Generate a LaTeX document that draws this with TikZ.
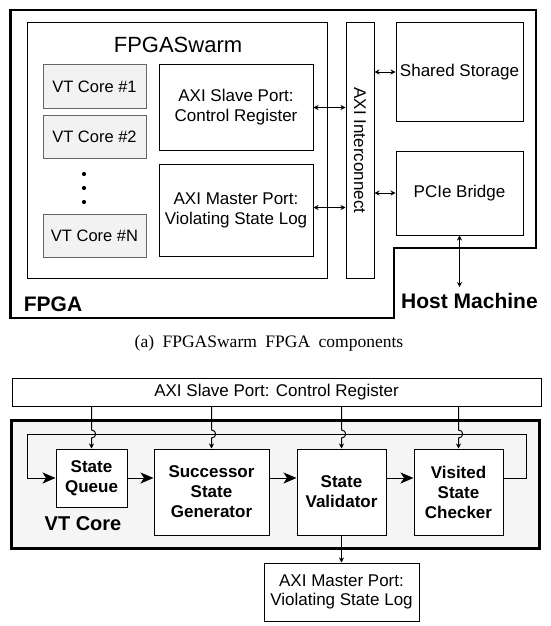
\documentclass[tikz,border=0pt]{standalone}
\usepackage{fontspec}
\setmainfont{Liberation Sans}
\newfontfamily\capfont{Liberation Serif}
\usetikzlibrary{arrows.meta}
\definecolor{vtfill}{HTML}{F2F2F2}
\definecolor{vtdraw}{HTML}{666666}
\definecolor{corefill}{HTML}{F5F5F5}
\begin{document}
\begin{tikzpicture}[x=1pt,y=-1pt,
  box/.style={draw, line width=1pt, inner sep=0pt, align=center, font=\fontsize{17}{20}\selectfont},
  vtbox/.style={box, draw=vtdraw, fill=vtfill, font=\fontsize{16.5}{19}\selectfont, minimum width=103, minimum height=43},
  blk/.style={box, fill=white, font=\bfseries\fontsize{17}{20}\selectfont},
  biarrow/.style={line width=1pt, {Stealth[length=5pt,width=5pt]}-{Stealth[length=5pt,width=5pt]}},
  drop/.style={line width=1pt, -{Stealth[length=5pt,width=5pt]}},
  flow/.style={line width=1pt, -{Stealth[length=13pt,width=11pt,inset=3.5pt]}},
  biglbl/.style={font=\bfseries\fontsize{21}{24}\selectfont, inner sep=0pt}]
\useasboundingbox (0,0) rectangle (550,626);

% ---------- (a) FPGA components ----------
\draw[line width=2.5pt] (10.5,10) -- (536,10) -- (536,248) -- (394,248) -- (394,318) -- (10.5,318) -- cycle;
\node[box, minimum width=300, minimum height=255] (swarm) at (177,150.5) {};
\node[font=\fontsize{22}{26}\selectfont, inner sep=0pt] (swarmlbl) at (178,45) {FPGASwarm};
\node[vtbox] (vt1) at (94.5,86.5) {VT Core \#1};
\node[vtbox] (vt2) at (94.5,136.5) {VT Core \#2};
\node[vtbox] (vtn) at (94.5,235.5) {VT Core \#N};
\fill (84,174) circle (2.1) (84,188) circle (2.1) (84,202) circle (2.1);
\node[box, minimum width=154, minimum height=85] (slave) at (236,107.5) {AXI Slave Port:\\Control Register};
\node[box, minimum width=154, minimum height=92] (master) at (236,210.5) {AXI Master Port:\\Violating State Log};
\node[box, minimum width=28, minimum height=255] (ic) at (360,150.5) {};
\node[rotate=-90, font=\fontsize{17}{20}\selectfont, inner sep=0pt] (iclbl) at (360,150.5) {AXI Interconnect};
\node[box, minimum width=127, minimum height=98] (shared) at (459.5,72) {Shared Storage};
\node[box, minimum width=127, minimum height=84] (pcie) at (459.5,193) {PCIe Bridge};
\coordinate (m1) at ([yshift=3pt]master.east);
\draw[biarrow] (slave.east) -- (slave.east -| ic.west);
\draw[biarrow] (m1) -- (m1 -| ic.west);
\draw[biarrow] (shared.west -| ic.east) -- (shared.west);
\draw[biarrow] (pcie.west -| ic.east) -- (pcie.west);
\coordinate (hostend) at (459.5,287);
\draw[biarrow] (pcie.south) -- (hostend);
\node[biglbl] (host) at (469.5,300.5) {Host Machine};
\node[biglbl] (fpga) at (53,304) {FPGA};
\node[font=\capfont\fontsize{17.5}{20}\selectfont, inner sep=0pt] (cap) at (269,343) {\spaceskip=8.5pt\relax (a) FPGASwarm FPGA components};

% ---------- VT core ----------
\node[box, minimum width=529, minimum height=28, font=\fontsize{17}{19}\selectfont] (slavebar) at (276.5,392) {AXI Slave Port: Control Register};
\node[draw, line width=3pt, fill=corefill, minimum width=528, minimum height=128, inner sep=0pt] (core) at (275,484) {};
\node[blk, minimum width=71, minimum height=58] (sq) at (91.5,478) {State\\Queue};
\node[blk, minimum width=115, minimum height=86] (succ) at (211.5,492) {Successor\\State\\Generator};
\node[blk, minimum width=89, minimum height=86] (val) at (341.5,492) {State\\Validator};
\node[blk, minimum width=89, minimum height=86] (vis) at (458.5,492) {Visited\\State\\Checker};
\node[font=\bfseries\fontsize{20}{24}\selectfont, inner sep=0pt] (vtlbl) at (83,524) {VT Core};
\node[box, minimum width=155, minimum height=58, font=\fontsize{17}{19}\selectfont] (master2) at (341.5,592) {AXI Master Port:\\Violating State Log};

\draw[flow] (sq.east) -- (sq.east -| succ.west);
\draw[flow] (sq.east -| succ.east) -- (sq.east -| val.west);
\draw[flow] (sq.east -| val.east) -- (sq.east -| vis.west);
\coordinate (lr) at (526,434);
\coordinate (ll) at (27,434);
\draw[flow] (sq.east -| vis.east) -| (lr) -- (ll) |- (sq.west);
\foreach \n in {sq,succ,val,vis}{
  \coordinate (\n j) at (ll -| \n.north);
  \draw[drop] (slavebar.south -| \n.north) -- ([yshift=4pt]\n j)
    .. controls ([xshift=5.5pt,yshift=4pt]\n j) and ([xshift=5.5pt,yshift=-4pt]\n j) .. ([yshift=-4pt]\n j)
    -- (\n.north);
}
\draw[drop] (val.south) -- (master2.north);
\end{tikzpicture}
\end{document}
